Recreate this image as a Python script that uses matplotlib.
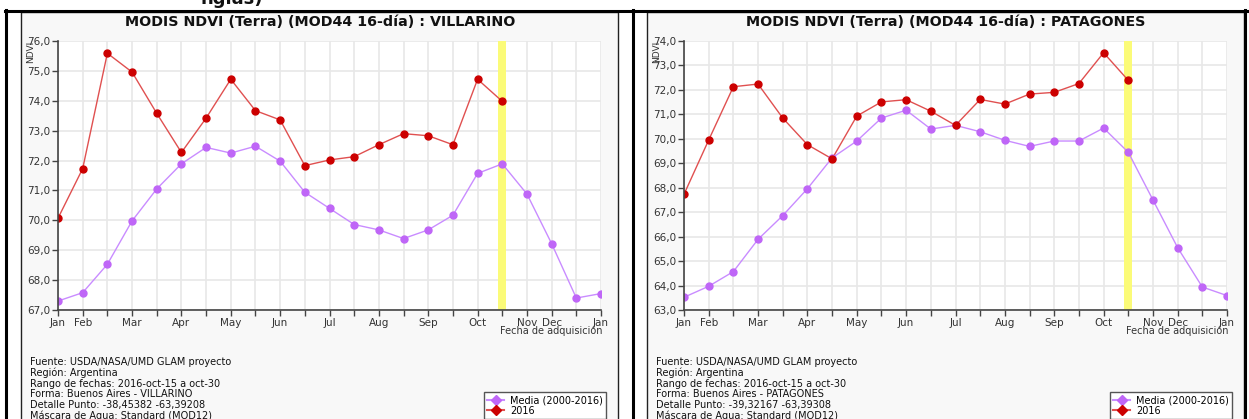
import matplotlib
matplotlib.use("Agg")
import matplotlib.pyplot
from matplotlib.lines import Line2D

WIDTH, HEIGHT = 1249, 419

# 16-day periods, Jan .. next Jan (23 positions)
period_labels = ["Jan", "Feb", "", "Mar", "", "Apr", "", "May", "", "Jun", "",
                 "Jul", "", "Aug", "", "Sep", "", "Oct", "", "Nov", "Dec", "", "Jan"]
current_period = 18

villarino_mean = [67.30, 67.58, 68.53, 69.98, 71.05, 71.89, 72.44, 72.25, 72.48,
                  71.98, 70.94, 70.40, 69.86, 69.68, 69.39, 69.68, 70.17, 71.57,
                  71.89, 70.88, 69.22, 67.40, 67.55]
villarino_2016 = [70.07, 71.73, 75.59, 74.96, 73.58, 72.27, 73.42, 74.72, 73.67,
                  73.36, 71.83, 72.02, 72.13, 72.53, 72.90, 72.83, 72.53, 74.72,
                  73.98]

patagones_mean = [63.52, 63.97, 64.57, 65.89, 66.86, 67.96, 69.22, 69.91, 70.85,
                  71.17, 70.40, 70.55, 70.29, 69.94, 69.69, 69.91, 69.91, 70.44,
                  69.45, 67.50, 65.55, 63.94, 63.59]
patagones_2016 = [67.73, 69.95, 72.13, 72.24, 70.85, 69.76, 69.18, 70.93, 71.51,
                  71.60, 71.13, 70.55, 71.61, 71.42, 71.83, 71.90, 72.26, 73.52,
                  72.39]

villarino_info = [
    "Fuente: USDA/NASA/UMD GLAM proyecto",
    "Región: Argentina",
    "Rango de fechas: 2016-oct-15 a oct-30",
    "Forma: Buenos Aires - VILLARINO",
    "Detalle Punto: -38,45382 -63,39208",
    "Máscara de Agua: Standard (MOD12)",
]
patagones_info = [
    "Fuente: USDA/NASA/UMD GLAM proyecto",
    "Región: Argentina",
    "Rango de fechas: 2016-oct-15 a oct-30",
    "Forma: Buenos Aires - PATAGONES",
    "Detalle Punto: -39,32167 -63,39308",
    "Máscara de Agua: Standard (MOD12)",
]

RED_LINE, RED_MARK = "#e05050", "#cc0000"
PURPLE_LINE, PURPLE_MARK = "#c98cff", "#bf66f7"
TEXT = "#333333"


def fig_rect(x0, y0, x1, y1):
    return [x0 / WIDTH, 1 - y1 / HEIGHT, (x1 - x0) / WIDTH, (y1 - y0) / HEIGHT]


def draw_panel(figure, bg, px, title, mean, current, ylim, info):
    # px: pixel x of the panel image left edge
    left, right = px + 37, px + 580
    bg.add_patch(matplotlib.patches.Rectangle((px, 12), 597, 410, facecolor="#f8f8f8",
                                              edgecolor="#222222", linewidth=1.0))
    bg.text(px + 299, 22, title, ha="center", va="center", fontsize=10.3,
            fontweight="bold", color="#111111")
    bg.text(px + 10, 52, "NDVI", rotation=90, ha="center", va="center",
            fontsize=6.5, color=TEXT)
    bg.text(right + 2, 331, "Fecha de adquisición", ha="right", va="center",
            fontsize=7, color=TEXT)
    for i, line in enumerate(info):
        bg.text(px + 9, 361.7 + i * 10.9, line, ha="left", va="center",
                fontsize=7, color="#111111")

    axis = figure.add_axes(fig_rect(left, 41, right, 310))
    axis.set_facecolor("white")
    x_all = list(range(len(mean)))
    axis.axvspan(current_period - 0.16, current_period + 0.16, color="#fbfb78",
                 zorder=1, linewidth=0)
    axis.plot(x_all, mean, color=PURPLE_LINE, linewidth=1.0, zorder=3)
    axis.plot(x_all, mean, linestyle="none", marker="o", markersize=5,
              color=PURPLE_MARK, zorder=4)
    x_cur = list(range(len(current)))
    axis.plot(x_cur, current, color=RED_LINE, linewidth=1.0, zorder=3)
    axis.plot(x_cur, current, linestyle="none", marker="o", markersize=5,
              color=RED_MARK, zorder=4)

    axis.set_xlim(0, len(mean) - 1)
    axis.set_ylim(*ylim)
    axis.set_xticks(x_all)
    axis.set_xticklabels(period_labels, fontsize=7.5, color=TEXT)
    yticks = list(range(ylim[0], ylim[1] + 1))
    axis.set_yticks(yticks)
    axis.set_yticklabels([f"{v:.1f}".replace(".", ",") for v in yticks],
                         fontsize=7.5, color=TEXT)
    axis.tick_params(length=4, width=1, color="#444444", pad=1.5)
    axis.grid(color="#e8e8e8", linewidth=1.2, zorder=0)
    axis.set_axisbelow(True)
    for side in ("top", "right"):
        axis.spines[side].set_visible(False)
    for side in ("left", "bottom"):
        axis.spines[side].set_color("#444444")
        axis.spines[side].set_linewidth(1.2)
        axis.spines[side].set_zorder(5)

    handles = [
        Line2D([], [], color=PURPLE_LINE, marker="D", markersize=5,
               markerfacecolor=PURPLE_MARK, markeredgecolor=PURPLE_MARK),
        Line2D([], [], color=RED_LINE, marker="D", markersize=5,
               markerfacecolor=RED_MARK, markeredgecolor=RED_MARK),
    ]
    legend = figure.legend(handles, ["Media (2000-2016)", "2016"],
                           loc="upper left",
                           bbox_to_anchor=((px + 463) / WIDTH, 1 - 392 / HEIGHT),
                           borderaxespad=0, borderpad=0.35, fontsize=7,
                           handlelength=1.7, handletextpad=0.6, labelspacing=0.05,
                           fancybox=False, framealpha=1, edgecolor="#555555")
    legend.get_frame().set_linewidth(1.0)
    return axis


def plot(output_path: str) -> None:
    figure = matplotlib.pyplot.figure(figsize=(WIDTH / 100, HEIGHT / 100), dpi=100)
    figure.patch.set_facecolor("white")
    bg = figure.add_axes([0, 0, 1, 1])
    bg.set_xlim(0, WIDTH)
    bg.set_ylim(HEIGHT, 0)
    bg.axis("off")

    # cropped heading above the table
    bg.text(263, 4.5, "ngias)", ha="right", va="baseline", fontsize=13,
            fontweight="bold", color="#111111")

    draw_panel(figure, bg, 21, "MODIS NDVI (Terra) (MOD44 16-día) : VILLARINO",
               villarino_mean, villarino_2016, (67, 76), villarino_info)
    draw_panel(figure, bg, 647, "MODIS NDVI (Terra) (MOD44 16-día) : PATAGONES",
               patagones_mean, patagones_2016, (63, 74), patagones_info)

    # table borders
    bg.plot([5, 1247], [11, 11], color="black", linewidth=2.2)
    for x in (6.5, 633, 1245.5):
        bg.plot([x, x], [10, HEIGHT], color="black", linewidth=2.2)

    figure.savefig(output_path, dpi=100)
    matplotlib.pyplot.close(figure)


plot("out.png")
